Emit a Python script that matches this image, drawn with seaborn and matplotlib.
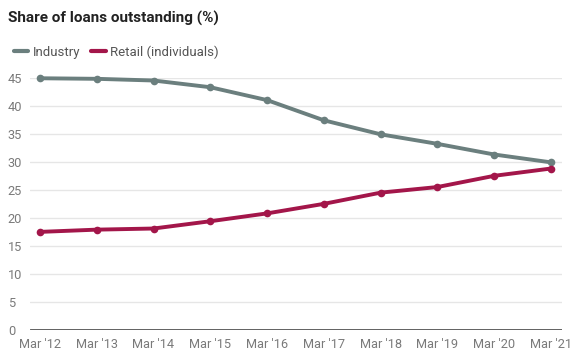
import matplotlib
matplotlib.use("Agg")
import matplotlib.pyplot as plt
import seaborn as sns
import pandas as pd
from matplotlib.lines import Line2D

periods = ["Mar '12", "Mar '13", "Mar '14", "Mar '15", "Mar '16",
           "Mar '17", "Mar '18", "Mar '19", "Mar '20", "Mar '21"]
industry = [44.9, 44.8, 44.5, 43.3, 41.0, 37.4, 34.9, 33.2, 31.3, 29.9]
retail = [17.5, 17.9, 18.1, 19.4, 20.8, 22.5, 24.5, 25.5, 27.5, 28.8]
series_names = ["Industry", "Retail (individuals)"]
y_ticks = [0, 5, 10, 15, 20, 25, 30, 35, 40, 45]

colors = {"Industry": "#6b7f7e", "Retail (individuals)": "#a3164a"}

df = pd.DataFrame({
    "pos": list(range(len(periods))) * 2,
    "value": industry + retail,
    "series": [series_names[0]] * len(periods) + [series_names[1]] * len(periods),
})

sns.set_theme(style="white")
plt.rcParams["font.family"] = ["Roboto", "DejaVu Sans"]

fig = plt.figure(figsize=(5.72, 3.52), dpi=100)
ax = fig.add_axes([30 / 572, 1 - 330 / 352, 532 / 572, (330 - 77.7) / 352])

sns.lineplot(data=df, x="pos", y="value", hue="series", palette=colors,
             marker="o", markersize=5.5, markeredgewidth=0, linewidth=2.8,
             legend=False, ax=ax)
for ln in ax.lines:
    ln.set_clip_on(False)

ax.set_xlim(-10 / 56.8, 9 + 11 / 56.8)
ax.set_ylim(0, 45)
ax.set_yticks(y_ticks)
ax.set_xticks(range(len(periods)))
ax.set_xticklabels(periods)
ax.set_xlabel("")
ax.set_ylabel("")

for y in y_ticks[1:]:
    ax.axhline(y, color="#e6e6e6", linewidth=1, zorder=0)
ax.axhline(0, color="#333333", linewidth=1.8, zorder=1)

for s in ax.spines.values():
    s.set_visible(False)
ax.tick_params(axis="both", length=0, labelsize=9.2, labelcolor="#7a7a7a")
ax.tick_params(axis="x", pad=6)
for lbl in ax.get_yticklabels():
    lbl.set_horizontalalignment("left")
ax.yaxis.set_tick_params(pad=16)

fig.text(8 / 572, 1 - 18 / 352, "Share of loans outstanding (%)",
         fontsize=11, fontweight="bold", color="#222222", va="center")

handles = [Line2D([0], [0], color=colors[n], linewidth=3) for n in series_names]
fig.legend(handles, series_names, loc="center left",
           bbox_to_anchor=(2 / 572, 1 - 52 / 352), ncol=2, frameon=False,
           fontsize=9.5, handlelength=1.1, handletextpad=0.35, columnspacing=0.8,
           labelcolor="#555555")

fig.savefig("out.png", dpi=100, facecolor="white")
